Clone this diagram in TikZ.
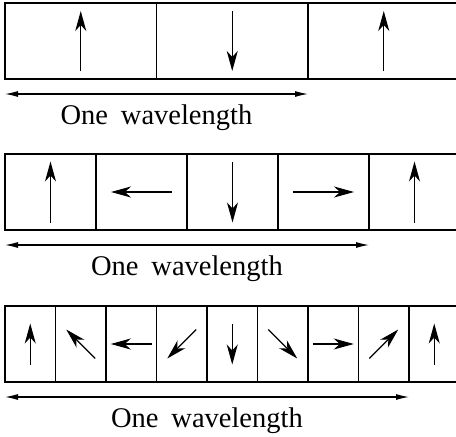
\documentclass[tikz,border=0pt]{standalone}
\usepackage{fontspec}
\setmainfont{Liberation Serif}
\usetikzlibrary{arrows.meta,calc}
\begin{document}
\begin{tikzpicture}[x=1pt,y=-1pt,
  cell/.style={draw, line width=1.4pt, minimum height=76pt, inner sep=0pt, outer sep=0pt, anchor=north west},
  spin/.style={line width=1.1pt, -{Stealth[length=20pt,width=11pt,inset=6pt]}},
  span/.style={line width=1.1pt, {Latex[length=13pt,width=6pt]}-{Latex[length=13pt,width=6pt]}},
  lbl/.style={anchor=base, inner sep=0pt, font=\fontsize{28.5}{34}\selectfont}]
\useasboundingbox (0,0) rectangle (456,437);
\clip (0,0) rectangle (456,437);

% half-wavelength cells
\foreach \i/\a in {0/90,1/270,2/90} {
  \node[cell, minimum width=151.5pt] (a\i) at ({5+151.5*\i},3) {};
  \draw[spin] (a\i.center) ++({\a+180}:30pt) -- ++(\a:60pt);
}
\coordinate (l1) at (5,94);
\coordinate (r1) at (a1.east |- l1);
\draw[span] (l1) -- (r1);
\node[lbl] (t1) at ($(l1)!0.5!(r1)+(0,30)$) {One\hspace{0.45em}wavelength};

% quarter-wavelength cells
\foreach \i/\a in {0/90,1/180,2/270,3/0,4/90} {
  \node[cell, minimum width=91pt] (b\i) at ({5+91*\i},154) {};
  \draw[spin] (b\i.center) ++({\a+180}:30.5pt) -- ++(\a:61pt);
}
\coordinate (l2) at (5,245);
\coordinate (r2) at (b3.east |- l2);
\draw[span] (l2) -- (r2);
\node[lbl] (t2) at ($(l2)!0.5!(r2)+(0,30)$) {One\hspace{0.45em}wavelength};

% eighth-wavelength cells
\foreach \i/\a in {0/90,1/135,2/180,3/225,4/270,5/315,6/0,7/45,8/90} {
  \node[cell, minimum width=50.5pt] (c\i) at ({5+50.5*\i},306) {};
  \draw[spin] (c\i.center) ++({\a+180}:20.5pt) -- ++(\a:41pt);
}
\coordinate (l3) at (5,397);
\coordinate (r3) at (c7.east |- l3);
\draw[span] (l3) -- (r3);
\node[lbl] (t3) at ($(l3)!0.5!(r3)+(0,30)$) {One\hspace{0.45em}wavelength};
\end{tikzpicture}
\end{document}
